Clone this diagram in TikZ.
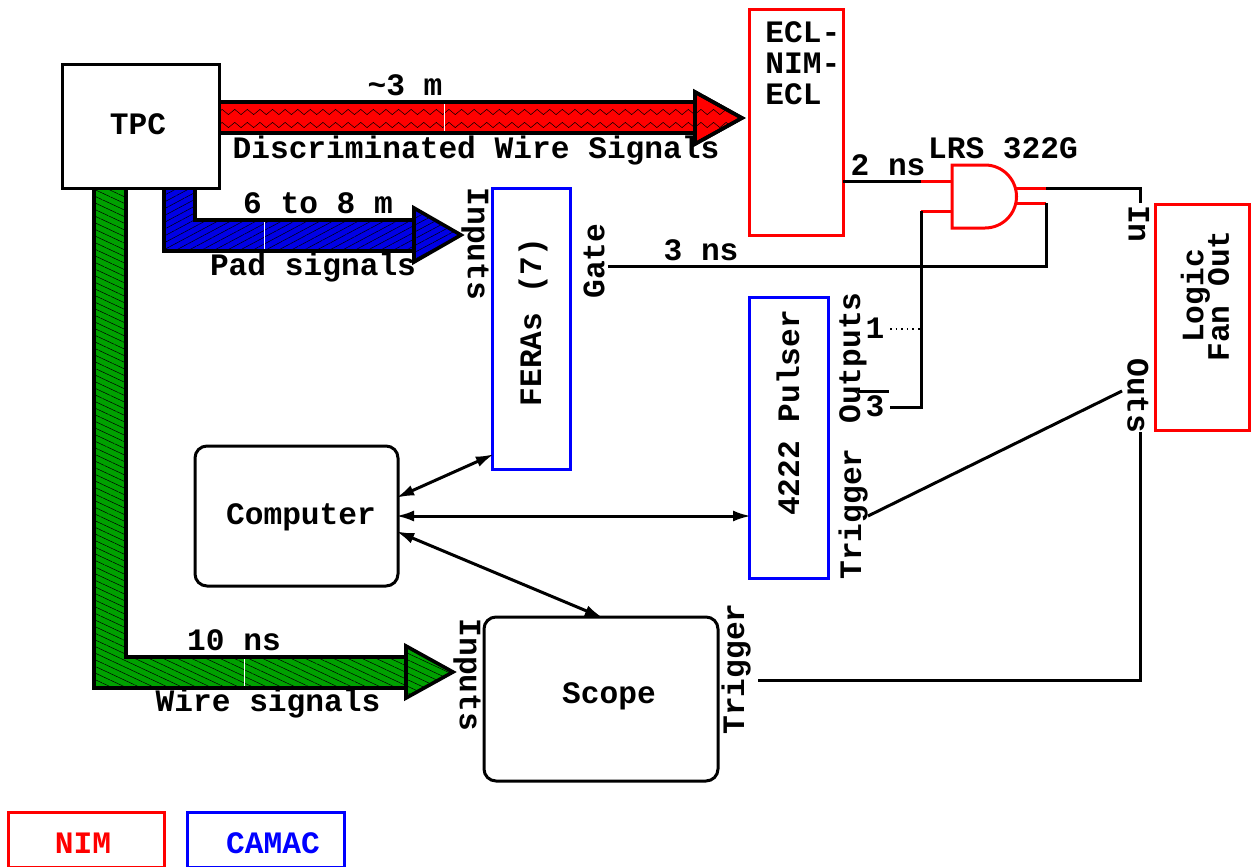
\documentclass[tikz,border=0pt]{standalone}
\usepackage{fontspec}
\setmainfont{Liberation Mono}
\usetikzlibrary{
  decorations.pathmorphing,%
  patterns.meta,%
  calc,%
  arrows.meta
}
\tikzset{>={Latex[length=9pt, width=5.5pt]}}
\tikzset{font=\bfseries\fontsize{15.6}{12}\selectfont}
\definecolor{nimred}{rgb}{1, 0, 0}
\definecolor{camacblue}{rgb}{0, 0, 1}
\definecolor{cableblue}{rgb}{0, 0, 0.9}
\definecolor{cablegreen}{rgb}{0, 0.63, 0}
\tikzset{
  blackbox/.style={draw=black, line width=1.5pt, fill=white, inner sep=0pt, outer sep=0pt},
  nimbox/.style={draw=nimred, line width=1.5pt, inner sep=0pt, outer sep=0pt},
  camacbox/.style={draw=camacblue, line width=1.5pt, inner sep=0pt, outer sep=0pt},
  cable/.style={draw=black, line width=1.8pt, line join=miter},
  redcable/.style={cable, fill=nimred},
  bluecable/.style={cable, preaction={fill=cableblue},
    pattern={Lines[angle=28, distance=3pt, line width=0.25pt]}, pattern color=black},
  greencable/.style={cable, preaction={fill=cablegreen},
    pattern={Lines[angle=-25, distance=3pt, line width=0.25pt]}, pattern color=black},
  zigzagline/.style={line width=0.25pt, decorate, decoration={zigzag, segment length=6.3pt, amplitude=1.3pt}},
  splice/.style={white, line width=0.4pt},
  signal/.style={line width=1.5pt, line join=miter},
  link/.style={signal, <->, shorten >=-1pt, shorten <=-1pt},
  gateline/.style={nimred, line width=1.5pt},
  vup/.style={rotate=90},
  vdown/.style={rotate=-90}
}

\begin{document}
\begin{tikzpicture}[x=0.5pt, y=-0.5pt]
  \useasboundingbox (0, 0) rectangle (1253, 867);
  % cable bundles
  \draw[redcable] (219, 102) -- (695, 102) -- (695, 133) -- (219, 133) -- cycle;%
  \draw[redcable] (695, 92) -- (742, 118) -- (695, 144) -- cycle;%
  \begin{scope}
    \clip (219, 102) -- (695, 102) -- (695, 92) -- (742, 118) -- (695, 144) -- (695, 133) -- (219, 133) -- cycle;
    \draw[zigzagline] (219, 112) -- (745, 112);%
    \draw[zigzagline] (219, 125) -- (745, 125);%
  \end{scope}
  \draw[cable] (695, 92) -- (742, 118) -- (695, 144) -- cycle;%
  \draw[splice] (444, 104) -- (444, 131);%
  \draw[bluecable] (164, 188) -- (164, 251) -- (414, 251) -- (414, 220) -- (195, 220) -- (195, 188) -- cycle;%
  \draw[bluecable] (414, 208) -- (461, 235) -- (414, 262) -- cycle;%
  \draw[splice] (264, 222) -- (264, 249);%
  \draw[greencable] (94, 188) -- (94, 688) -- (406, 688) -- (406, 657) -- (126, 657) -- (126, 188) -- cycle;%
  \draw[greencable] (406, 646) -- (453, 672) -- (406, 698) -- cycle;%
  \draw[splice] (244, 659) -- (244, 686);%
  % modules
  \node[blackbox, minimum width=78.5pt, minimum height=62pt] (tpc) at (140.5, 126) {};%
  \node[nimbox, minimum width=47pt, minimum height=113pt] (ecl) at (796, 122) {};%
  \node[camacbox, minimum width=39pt, minimum height=140.5pt] (feras) at (531, 328.5) {};%
  \node[camacbox, minimum width=39.5pt, minimum height=140.5pt] (pulser) at (788.5, 437.5) {};%
  \node[blackbox, rounded corners=6pt, minimum width=101.5pt, minimum height=70pt] (computer) at (296.5, 516) {};%
  \node[blackbox, rounded corners=6pt, minimum width=117pt, minimum height=82pt] (scope) at (601, 699) {};%
  \node[nimbox, minimum width=47pt, minimum height=113pt] (fanout) at (1202, 317) {};%
  \node[nimbox, minimum width=78pt, minimum height=27.5pt] (nimkey) at (86, 839.5) {};%
  \node[camacbox, minimum width=78.5pt, minimum height=27.5pt] (camackey) at (265.5, 839.5) {};%
  % gate
  \draw[gateline] (985, 165) -- (952, 165) -- (952, 228) -- (985, 228) arc[start angle=90, end angle=-90, radius=31.5] -- cycle;%
  \coordinate (gatein1) at (921, 181);%
  \coordinate (gatein2) at (921, 211);%
  \coordinate (gateout1) at (1046, 188);%
  \coordinate (gateout2) at (1046, 203);%
  \draw[gateline] (gatein1) -- (952, 181);%
  \draw[gateline] (gatein2) -- (952, 211);%
  \draw[gateline] (1015, 188) -- (gateout1);%
  \draw[gateline] (1015, 203) -- (gateout2);%
  % signal lines
  \coordinate (output1) at (890, 329);%
  \coordinate (output2) at (890, 407);%
  \coordinate (triggerout) at (868, 516);%
  \coordinate (fanoutout) at (1122, 391);%
  \draw[signal] (ecl.east |- gatein1) -- (gatein1);%
  \draw[signal] (gatein2) -- (gatein2 |- output2) -- (output2);%
  \draw[thick, dotted] (output1) -- (output1 -| gatein1);%
  \draw[signal] (858, 391) -- (889, 391);%
  \draw[signal] (gateout1) -- (1140, 188) -- (1140, 203);%
  \draw[signal] (gateout2) -- (gateout2 |- 0, 266) -- (608, 266);%
  \draw[signal] (triggerout) -- (fanoutout);%
  \draw[signal] (758, 680) -- (1140, 680) -- (1140, 432);%
  % computer links
  \draw[link] ($(computer.east)+(0, -19)$) -- ($(feras.south west)+(0, -14)$);%
  \draw[link] (computer.east) -- (computer.east -| pulser.west);%
  \draw[link] ($(computer.east)+(0, 16)$) -- (scope.north);%
  % labels
  \node (tpctext) at (138, 124) {TPC};%
  \node (distance1) at (405, 85) {\char`\~3 m};%
  \node (discriminated) at (476, 150) {Discriminated Wire Signals};%
  \node (distance2) at (318, 203) {6 to 8 m};%
  \node (padsignals) at (313, 267) {Pad signals};%
  \node (delay1) at (234, 640) {10 ns};%
  \node (wiresignals) at (268, 703) {Wire signals};%
  \node (delay2) at (888, 165) {2 ns};%
  \node (delay3) at (701, 250) {3 ns};%
  \node (gatename) at (1003, 148) {LRS 322G};%
  \node[align=left, anchor=north west, inner sep=0pt] (ecltext) at (765, 21) {ECL-\\[3.5pt]NIM-\\[3.5pt]ECL};%
  \node (computertext) at (301, 517) {Computer};%
  \node (scopetext) at (609, 696) {Scope};%
  \node[nimred] (nimtext) at (83, 843) {NIM};%
  \node[camacblue] (camactext) at (273, 843) {CAMAC};%
  \node[vup] (ferastext) at (533, 322) {FERAs (7)};%
  \node[vup] (pulsertext) at (788, 413) {4222 Pulser};%
  \node[vup, align=center] (fanouttext) at (1205, 296) {Logic\\[-2pt]Fan Out};%
  \node[vdown] (ferasin) at (475, 244) {Inputs};%
  \node[vdown] (scopein) at (467, 675) {Inputs};%
  \node[vdown] (fanin) at (1139, 224) {In};%
  \node[vdown] (fanouts) at (1138, 396) {Outs};%
  \node[vup] (gatetext) at (594, 261) {Gate};%
  \node[vup] (outputs) at (853, 358) {Outputs};%
  \node[vup] (pulsertrig) at (853, 514) {Trigger};%
  \node[vup] (scopetrig) at (736, 669) {Trigger};%
  \node (one) at (875, 328) {1};%
  \node (three) at (875, 406) {3};%
\end{tikzpicture}
\end{document}
